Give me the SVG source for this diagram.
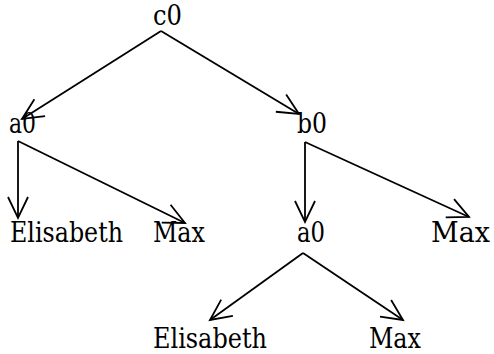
<svg xmlns="http://www.w3.org/2000/svg" width="494" height="354" viewBox="0 0 494 354">
  <defs>
    <style>
      .lbl { font-family: "DejaVu Serif", "Liberation Serif", serif; font-size: 27px; fill: #000; }
      .edge { stroke: #000; stroke-width: 1.8; fill: none; marker-end: url(#open); }
    </style>
    <marker id="open" markerUnits="userSpaceOnUse" markerWidth="30" markerHeight="30" viewBox="-25 -15 30 30" refX="0" refY="0" orient="auto">
      <path d="M-21,-10 L0,0 L-21,10" fill="none" stroke="#000" stroke-width="1.8"/>
    </marker>
  </defs>
  <rect width="494" height="354" fill="#fff"/>
  <g id="connectors">
    <line class="edge" x1="161" y1="31" x2="22" y2="119"/>
    <line class="edge" x1="161" y1="31" x2="299" y2="114"/>
    <line class="edge" x1="18" y1="141" x2="18" y2="218"/>
    <line class="edge" x1="18" y1="141" x2="185" y2="223"/>
    <line class="edge" x1="305" y1="142" x2="305" y2="222"/>
    <line class="edge" x1="305" y1="142" x2="469" y2="217"/>
    <line class="edge" x1="303" y1="253" x2="210" y2="320"/>
    <line class="edge" x1="303" y1="253" x2="403" y2="320"/>
  </g>
  <g id="c0"><text class="lbl" x="153" y="25" textLength="29" lengthAdjust="spacingAndGlyphs">c0</text></g>
  <g id="a0-left"><text class="lbl" x="9" y="133" textLength="27" lengthAdjust="spacingAndGlyphs">a0</text></g>
  <g id="b0"><text class="lbl" x="297" y="133" textLength="30" lengthAdjust="spacingAndGlyphs">b0</text></g>
  <g id="elisabeth-left"><text class="lbl" x="10" y="242" textLength="113" lengthAdjust="spacingAndGlyphs">Elisabeth</text></g>
  <g id="max-left"><text class="lbl" x="153" y="242" textLength="52" lengthAdjust="spacingAndGlyphs">Max</text></g>
  <g id="a0-mid"><text class="lbl" x="297" y="242" textLength="28" lengthAdjust="spacingAndGlyphs">a0</text></g>
  <g id="max-right"><text class="lbl" x="490" y="242" text-anchor="end">Max</text></g>
  <g id="elisabeth-bottom"><text class="lbl" x="153" y="348" textLength="114" lengthAdjust="spacingAndGlyphs">Elisabeth</text></g>
  <g id="max-bottom"><text class="lbl" x="369" y="348" textLength="52" lengthAdjust="spacingAndGlyphs">Max</text></g>
</svg>
